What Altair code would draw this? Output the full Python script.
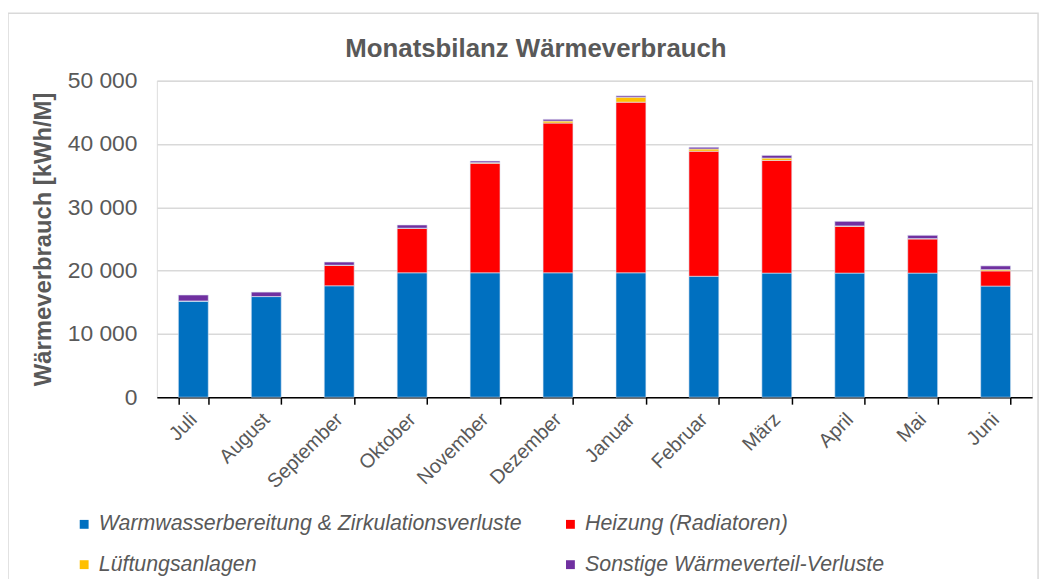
import altair as alt
import pandas as pd

months = ["Juli", "August", "September", "Oktober", "November", "Dezember",
          "Januar", "Februar", "März", "April", "Mai", "Juni"]
series = ["Warmwasserbereitung & Zirkulationsverluste", "Heizung (Radiatoren)",
          "Lüftungsanlagen", "Sonstige Wärmeverteil-Verluste"]
colors = ["#0070C0", "#FF0000", "#FFC000", "#7030A0"]
title_text = "Monatsbilanz Wärmeverbrauch"

warmwasser = [15200, 15900, 17600, 19650, 19650, 19650, 19650, 19100, 19600, 19600, 19600, 17550]
heizung = [0, 0, 3200, 7000, 17300, 23650, 26950, 19750, 17800, 7400, 5400, 2400]
lueftung = [0, 0, 50, 50, 100, 320, 780, 360, 370, 50, 50, 200]
sonstige = [940, 700, 500, 500, 250, 270, 220, 270, 420, 730, 520, 590]

rows = []
for i, m in enumerate(months):
    for k, (s, vals) in enumerate(zip(series, [warmwasser, heizung, lueftung, sonstige])):
        rows.append({"Monat": m, "Kategorie": s, "Wert": vals[i], "ord": k})
df = pd.DataFrame(rows)

grey = "#595959"
font = "Liberation Sans"

bars = alt.Chart(df).mark_bar(stroke="#dfe8f5", strokeWidth=0.6).encode(
    x=alt.X("Monat:N", sort=months, scale=alt.Scale(paddingInner=0.59, paddingOuter=0.295),
            axis=alt.Axis(title=None, labelAngle=-45, labelAlign="right", labelBaseline="middle",
                          labelFontSize=20, labelColor=grey, labelFont=font, labelPadding=12,
                          domainColor="#000000", domainWidth=1.5, tickColor="#000000",
                          tickWidth=1.5, tickSize=7, tickBand="extent", grid=False)),
    y=alt.Y("Wert:Q", stack="zero", scale=alt.Scale(domain=[0, 50000], nice=False),
            axis=alt.Axis(title="Wärmeverbrauch  [kWh/M]", values=[0, 10000, 20000, 30000, 40000, 50000],
                          labelExpr="replace(format(datum.value, ','), ',', ' ')",
                          labelFontSize=23, labelColor=grey, labelFont=font, labelPadding=20,
                          ticks=False, domain=False, gridColor="#d9d9d9", gridWidth=1.5,
                          titleFontSize=24, titleColor=grey, titleFont=font, titleFontWeight="bold",
                          titlePadding=12)),
    color=alt.Color("Kategorie:N", sort=series, scale=alt.Scale(domain=series, range=colors),
                    legend=alt.Legend(title=None, orient="none", legendX=-84, legendY=436,
                                      columns=2, direction="horizontal", columnPadding=38,
                                      rowPadding=18, symbolType="square", symbolSize=80,
                                      symbolStrokeWidth=0, labelFontSize=21.5, labelColor=grey,
                                      labelFont=font, labelFontStyle="italic", labelLimit=700)),
    order=alt.Order("ord:Q", sort="ascending"),
)

border = alt.Chart(alt.Data(values=[{}])).mark_rect(
    fill=None, stroke="#d9d9d9", strokeWidth=1.5
).encode(x=alt.value(-150), x2=alt.value(888), y=alt.value(-68), y2=alt.value(530))

title = alt.Chart(alt.Data(values=[{"t": title_text}])).mark_text(
    font=font, fontSize=26, fontWeight="bold", color=grey, align="center", baseline="middle"
).encode(text="t:N", x=alt.value(382), y=alt.value(-32))

chart = alt.layer(border, bars, title).properties(
    width=882, height=319,
    autosize=alt.AutoSizeParams(type="none"),
    padding={"left": 150, "top": 71, "right": 14, "bottom": 181},
).configure_view(stroke=None).configure(background="white")

chart.save("out.html", embed_options={"renderer": "svg", "actions": False})
